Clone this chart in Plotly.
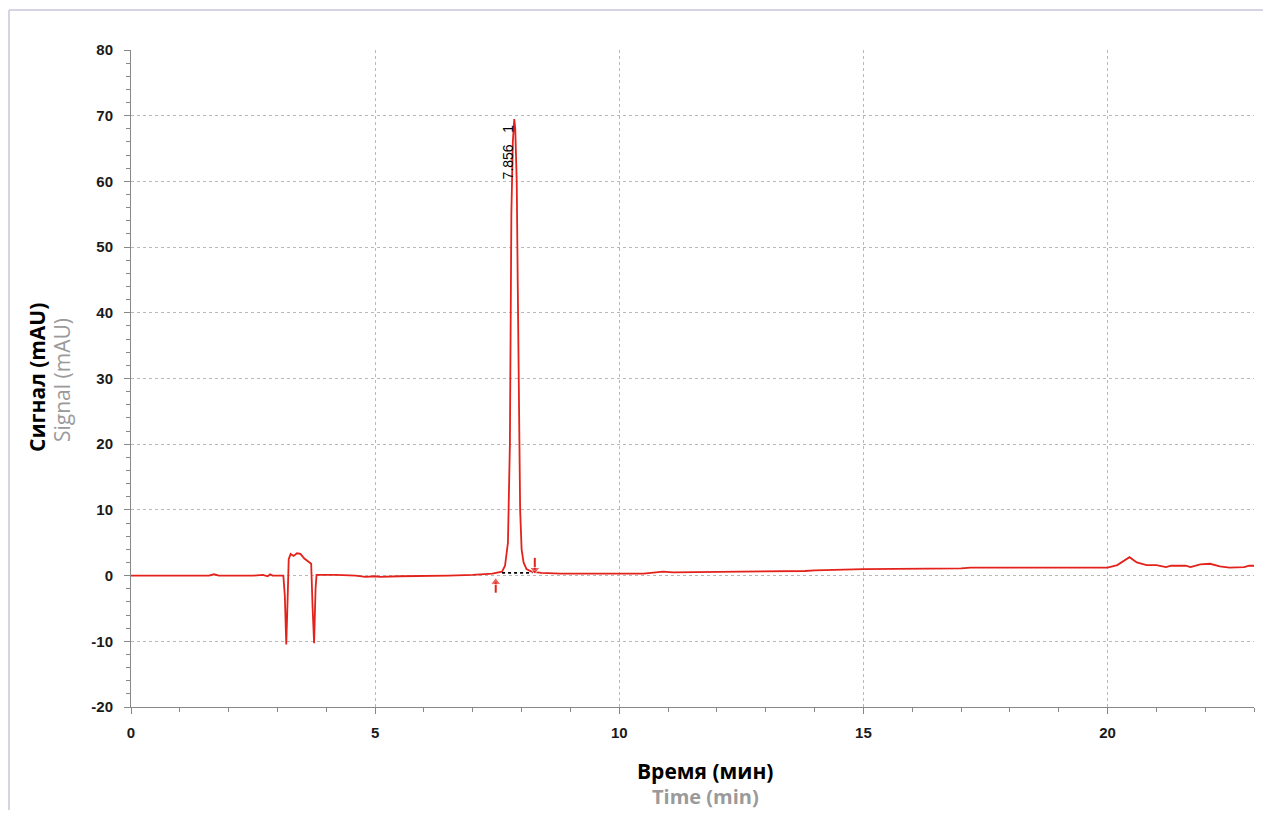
import plotly.graph_objects as go

# --- Data ---
time_min = [0.0, 1.6, 1.7, 1.8, 2.5, 2.7, 2.8, 2.85, 2.9, 3.12, 3.15, 3.18, 3.21, 3.23, 3.27,
            3.33, 3.4, 3.47, 3.55, 3.65, 3.69, 3.72, 3.75, 3.78, 3.8, 4.2, 4.6, 4.8, 5.0, 5.1,
            5.5, 6.5, 7.0, 7.4, 7.6, 7.66, 7.72, 7.76, 7.79, 7.82, 7.85, 7.87, 7.9, 7.92, 7.94,
            7.97, 8.0, 8.04, 8.1, 8.2, 8.4, 8.8, 10.5, 10.7, 10.9, 11.1, 13.5, 13.8, 14.0, 14.6,
            15.0, 17.0, 17.2, 20.0, 20.2, 20.45, 20.6, 20.8, 21.0, 21.2, 21.3, 21.6, 21.7, 21.9,
            22.1, 22.3, 22.5, 22.8, 22.9, 23.0]
signal_mau = [0.0, 0.0, 0.2, 0.0, 0.0, 0.1, -0.1, 0.2, 0.0, 0.0, -3.0, -10.5, -3.0, 2.5, 3.3,
              3.0, 3.4, 3.3, 2.6, 2.0, 1.8, -5.0, -10.3, -2.0, 0.1, 0.1, 0.0, -0.2, -0.1, -0.2,
              -0.1, 0.0, 0.1, 0.3, 0.6, 1.5, 5.0, 20.0, 55.0, 66.0, 69.5, 68.0, 60.0, 45.0, 25.0,
              10.0, 4.0, 2.0, 1.0, 0.6, 0.4, 0.3, 0.3, 0.5, 0.6, 0.5, 0.6, 0.7, 0.8, 0.9,
              1.0, 1.1, 1.2, 1.2, 1.6, 2.8, 2.0, 1.6, 1.6, 1.3, 1.5, 1.5, 1.3, 1.7,
              1.8, 1.4, 1.2, 1.3, 1.5, 1.5]

peak_rt = 7.856
peak_label = "7.856   1"
peak_label_y = 64.5
baseline_t = [7.6, 8.22]
baseline_y = [0.4, 0.4]
start_marker_t = [7.47, 7.47]
start_marker_y = [-2.6, -1.0]
end_marker_t = [8.27, 8.27]
end_marker_y = [2.7, 0.9]

x_ticks = [0, 5, 10, 15, 20]
x_tick_labels = ["0", "5", "10", "15", "20"]
y_ticks = [-20, -10, 0, 10, 20, 30, 40, 50, 60, 70, 80]
y_tick_labels = ["-20", "-10", "0", "10", "20", "30", "40", "50", "60", "70", "80"]

RED = "#e3221c"

fig = go.Figure()
fig.add_trace(go.Scatter(x=time_min, y=signal_mau, mode="lines",
                         line=dict(color=RED, width=1.8), hoverinfo="x+y"))
fig.add_trace(go.Scatter(x=baseline_t, y=baseline_y, mode="lines",
                         line=dict(color="black", width=1.8, dash="dot")))
fig.add_trace(go.Scatter(x=start_marker_t, y=start_marker_y, mode="lines+markers",
                         line=dict(color=RED, width=2),
                         marker=dict(symbol=["circle", "triangle-up"], size=[0, 9], color=RED)))
fig.add_trace(go.Scatter(x=end_marker_t, y=end_marker_y, mode="lines+markers",
                         line=dict(color=RED, width=2),
                         marker=dict(symbol=["circle", "triangle-down"], size=[0, 9], color=RED)))

fig.add_annotation(x=peak_rt, y=peak_label_y, text=peak_label, textangle=-90,
                   showarrow=False, xanchor="right", yanchor="middle", xshift=3,
                   font=dict(family="Arial", size=14, color="black"))

tick_font = dict(family="Arial", size=15, color="#1a1a1a", weight="bold")
fig.update_xaxes(range=[0, 23], tickvals=x_ticks, ticktext=x_tick_labels, showgrid=True,
                 gridcolor="#b8b8b8", griddash="dot", gridwidth=1, showline=True,
                 linecolor="#888888", linewidth=1, ticks="outside", ticklen=6, tickcolor="#888888",
                 minor=dict(dtick=1, ticks="outside", ticklen=4, tickcolor="#888888", showgrid=False),
                 zeroline=False, tickfont=tick_font, ticklabelstandoff=6)
fig.update_yaxes(range=[-20, 80], tickvals=y_ticks, ticktext=y_tick_labels, showgrid=True,
                 gridcolor="#b8b8b8", griddash="dot", gridwidth=1, showline=True,
                 linecolor="#888888", linewidth=1, ticks="outside", ticklen=6, tickcolor="#888888",
                 minor=dict(dtick=2, ticks="outside", ticklen=4, tickcolor="#888888", showgrid=False),
                 zeroline=False, tickfont=tick_font, ticklabelstandoff=8)

# Axis titles (bilingual); positions given relative to plot area in page pixels
PL, PT, PW, PH = 131, 50, 1123, 657


def px(xp):
    return (xp - PL) / PW


def py(yp):
    return (PT + PH - yp) / PH


title_font_b = dict(family="Open Sans", size=21, color="black")
title_font_g = dict(family="Open Sans", size=20, color="#9a9a9a")
title_font_g_reg = dict(family="Open Sans", size=21, color="#9a9a9a")
common = dict(xref="paper", yref="paper", showarrow=False, xanchor="center", yanchor="middle")
fig.add_annotation(x=px(37), y=py(378), text="<b>Сигнал (mAU)</b>", textangle=-90,
                   font=title_font_b, **common)
fig.add_annotation(x=px(62), y=py(380), text="Signal (mAU)", textangle=-90,
                   font=title_font_g_reg, **common)
fig.add_annotation(x=px(705), y=py(771), text="<b>Время (мин)</b>", font=title_font_b, **common)
fig.add_annotation(x=px(705), y=py(796), text="<b>Time (min)</b>", font=title_font_g, **common)

# window frame lines
frame_color = "#d4d4e4"
fig.add_shape(type="line", xref="paper", yref="paper", x0=px(9), x1=px(9),
              y0=py(10), y1=py(818), line=dict(color=frame_color, width=2))
fig.add_shape(type="line", xref="paper", yref="paper", x0=px(9), x1=px(1271),
              y0=py(10), y1=py(10), line=dict(color=frame_color, width=2))

# page body has an 8px margin: figure spans page pixels 8..1263 x 8..810
fig.update_layout(width=1255, height=802, showlegend=False,
                  margin=dict(l=PL - 8, r=1263 - (PL + PW), t=PT - 8, b=810 - (PT + PH)),
                  paper_bgcolor="white", plot_bgcolor="white")

fig.write_html("out.html")
